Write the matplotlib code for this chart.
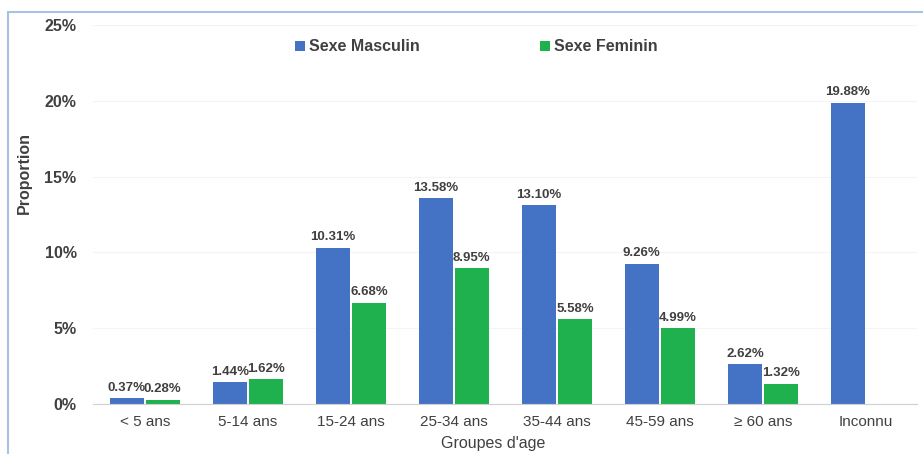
import numpy as np
import matplotlib.pyplot as plt
from matplotlib.patches import Rectangle

plt.rcParams['font.family'] = ['Liberation Sans', 'DejaVu Sans']

groups = ['< 5 ans', '5-14 ans', '15-24 ans', '25-34 ans', '35-44 ans',
          '45-59 ans', '\u2265 60 ans', 'Inconnu']
masculin = [0.37, 1.44, 10.31, 13.58, 13.10, 9.26, 2.62, 19.88]
feminin = [0.28, 1.62, 6.68, 8.95, 5.58, 4.99, 1.32, None]

blue = '#4472C4'
green = '#1FB14D'
grey = '#404040'

fig = plt.figure(figsize=(9.23, 4.54), dpi=100)
ax = fig.add_axes([0.101, 0.110, 0.893, 0.835])

x = np.arange(len(groups))
w = 0.33
gap = 0.01
m_vals = [v / 100 for v in masculin]
f_vals = [0 if v is None else v / 100 for v in feminin]
bm = ax.bar(x - w / 2 - gap, m_vals, width=w, color=blue, label='Sexe Masculin')
bf = ax.bar(x + w / 2 + gap, f_vals, width=w, color=green, label='Sexe Feminin')

for i, v in enumerate(masculin):
    ax.text(x[i] - w / 2 - gap, v / 100 + 0.003, '%.2f%%' % v, ha='center',
            va='bottom', fontsize=9.5, color=grey, fontweight='bold')
for i, v in enumerate(feminin):
    if v is None:
        continue
    ax.text(x[i] + w / 2 + gap, v / 100 + 0.003, '%.2f%%' % v, ha='center',
            va='bottom', fontsize=9.5, color=grey, fontweight='bold')

ax.set_xlim(-0.5, len(groups) - 0.5)
ax.set_ylim(0, 0.25)
ax.set_yticks([0, 0.05, 0.10, 0.15, 0.20, 0.25])
ax.set_yticklabels(['0%', '5%', '10%', '15%', '20%', '25%'], fontsize=11.5,
                   color=grey, fontweight='bold')
ax.set_xticks(x)
ax.set_xticklabels(groups, fontsize=11, color=grey)
ax.tick_params(length=0, pad=8)
ax.tick_params(axis='y', pad=12)

for s in ['top', 'right', 'left']:
    ax.spines[s].set_visible(False)
ax.spines['bottom'].set_color('#D0D0D0')
ax.yaxis.grid(True, color='#F4F4F4', linewidth=0.8)
ax.set_axisbelow(True)

ax.set_ylabel('Proportion', fontsize=11.5, color=grey, fontweight='bold')
ax.yaxis.set_label_coords(-0.075, 0.61)
ax.set_xlabel("Groupes d'age", fontsize=11.5, color=grey)
ax.xaxis.set_label_coords(0.485, -0.085)

ax.legend(loc='upper center', bbox_to_anchor=(0.465, 1.0), ncol=2, frameon=False,
          prop={'size': 11.5, 'weight': 'bold'}, handlelength=0.6,
          handleheight=0.6, handletextpad=0.3, columnspacing=7.5,
          labelcolor=grey)

fig.patches.append(Rectangle((8 / 923, -0.1), 1.2, 1 - 12 / 454 + 0.1,
                             transform=fig.transFigure, fill=False,
                             edgecolor='#A9C1E3', linewidth=1.5))

fig.savefig('out.png', dpi=100)
